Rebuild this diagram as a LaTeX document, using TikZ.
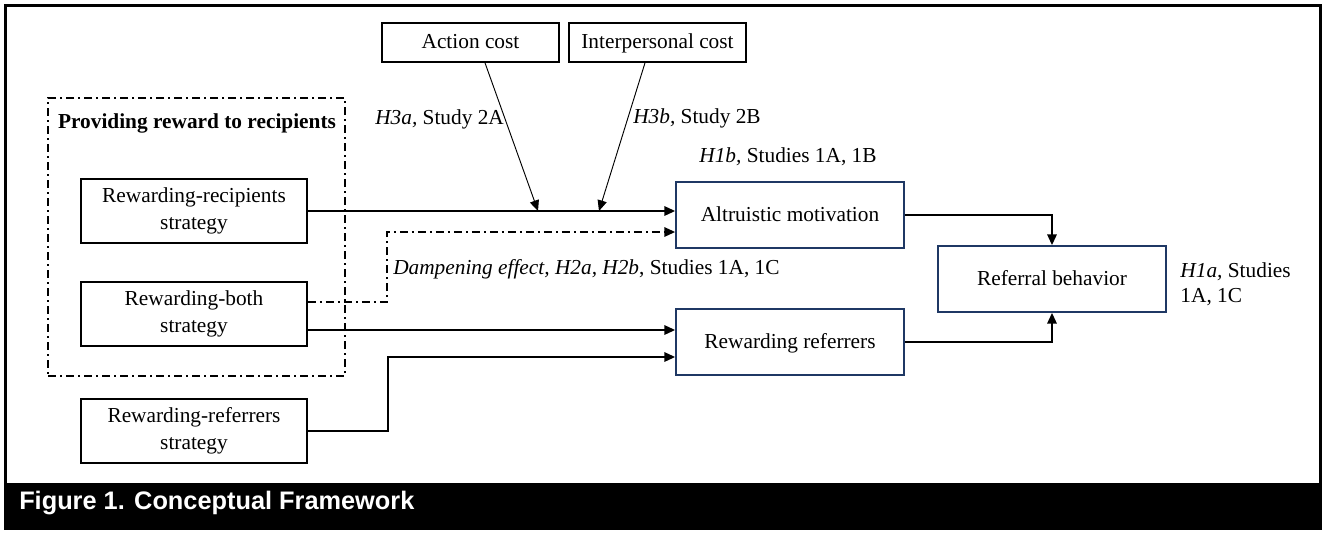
\documentclass[tikz,border=0pt]{standalone}
\usepackage{fontspec}
\setmainfont{Liberation Serif}
\setsansfont{Liberation Sans}
\usetikzlibrary{arrows.meta, positioning, calc}
\usepackage{xcolor}
\definecolor{cfNavy}{HTML}{1F3864}

\tikzset{
  % Strategy boxes on the left
  stratnode/.style={
    rectangle,
    draw=black,
    line width=1.3pt,
    minimum width=169.5pt,
    minimum height=48pt,
    inner sep=0pt,
    align=center,
    font=\fontsize{16}{20.25}\selectfont
  },
  % Cost moderator boxes
  costnode/.style={
    stratnode,
    minimum width=132.75pt,
    minimum height=29.25pt,
    text height=11.5pt,
    text depth=2.5pt
  },
  % Mediator and outcome boxes
  constnode/.style={
    stratnode,
    draw=cfNavy,
    minimum width=171pt,
    minimum height=49.5pt,
    text height=11.5pt,
    text depth=2.5pt
  },
  % Dash-dot group frame
  groupbox/.style={
    rectangle,
    draw=black,
    line width=1.2pt,
    dash pattern=on 6pt off 3pt on 1.5pt off 3pt,
    minimum width=222.75pt,
    minimum height=208.5pt,
    inner sep=0pt
  },
  % Path label
  pathlabel/.style={
    inner sep=0pt,
    align=left,
    font=\fontsize{16}{19}\selectfont
  },
  % Main path arrow
  flow/.style={
    -{Triangle[length=8pt,width=7pt]},
    line width=1.4pt
  },
  % Moderator arrow
  costflow/.style={
    -{Triangle[length=8pt,width=7pt]},
    line width=0.7pt
  },
  % Dampening arrow
  dampflow/.style={
    flow,
    line width=1.2pt,
    dash pattern=on 6pt off 3pt on 1.5pt off 3pt
  }
}

\begin{document}
\begin{tikzpicture}[x=0.75pt, y=-0.75pt]
\useasboundingbox (0,0) rectangle (1325,533);

%% === Frame and caption band ===
\draw[line width=2.25pt] (5,5) rectangle (1320,528);
\fill[black] (5,483) rectangle (1320,528);
\node[anchor=base west, inner sep=0pt, text=white,
      font=\sffamily\bfseries\fontsize{19}{22}\selectfont] (caption) at (19,509)
  {Figure 1. Conceptual Framework};

%% === Cost moderators ===
\node[costnode] (actcost) at (470.5,42.5) {Action cost};
\node[costnode] (intcost) at (657.5,42.5) {Interpersonal cost};

%% === Reward group ===
\node[groupbox] (grp) at (196.5,237) {};
\node[anchor=base, inner sep=0pt, font=\bfseries\fontsize{16}{20.25}\selectfont] (grptitle) at (197,128)
  {Providing reward to recipients};

% Strategies
\node[stratnode] (recip) at (194,211) {Rewarding-recipients\\strategy};
\node[stratnode] (both) at (194,314) {Rewarding-both\\strategy};
\node[stratnode] (referr) at (194,431) {Rewarding-referrers\\strategy};

%% === Mediators and outcome ===
\node[constnode] (altru) at (790,215) {Altruistic motivation};
\node[constnode] (rewref) at (790,342) {Rewarding referrers};
\node[constnode] (referral) at (1052,279) {Referral behavior};

%% === Path labels ===
\node[pathlabel, anchor=base west] (h3a) at (375,124) {\textit{H3a,} Study 2A};
\node[pathlabel, anchor=base west] (h3b) at (633,123) {\textit{H3b,} Study 2B};
\node[pathlabel, anchor=base] (h1b) at (788,162) {\textit{H1b,} Studies 1A, 1B};
\node[pathlabel, anchor=base west] (h2) at (393,274)
  {\textit{Dampening effect, H2a, H2b}, Studies 1A, 1C};
\node[pathlabel, right=10pt of referral, yshift=-4pt] (h1a) {\textit{H1a,} Studies\\1A, 1C};

%% === Connectors ===
% Recipients strategy to altruistic motivation
\draw[flow] (recip.east) -- (recip.east -| altru.west);

% Moderation by costs
\coordinate (modA) at (538,211);
\coordinate (modB) at (599,211);
\draw[costflow] ($(actcost.south)+(14.5,0)$) -- (modA);
\draw[costflow] ($(intcost.south)+(-12.5,0)$) -- (modB);

% Dampening path
\draw[dampflow] ($(both.east)+(0,-12)$) -- ++(79,0) |- ($(altru.west)+(0,17)$);

% Both strategy to rewarding referrers
\coordinate (bothout) at ($(both.east)+(0,16)$);
\draw[flow] (bothout) -- (bothout -| rewref.west);

% Referrers strategy to rewarding referrers
\draw[flow] (referr.east) -- ++(80,0) |- ($(rewref.west)+(0,15)$);

% Into referral behavior
\draw[flow] (altru.east) -| (referral.north);
\draw[flow] (rewref.east) -| (referral.south);

\end{tikzpicture}
\end{document}
